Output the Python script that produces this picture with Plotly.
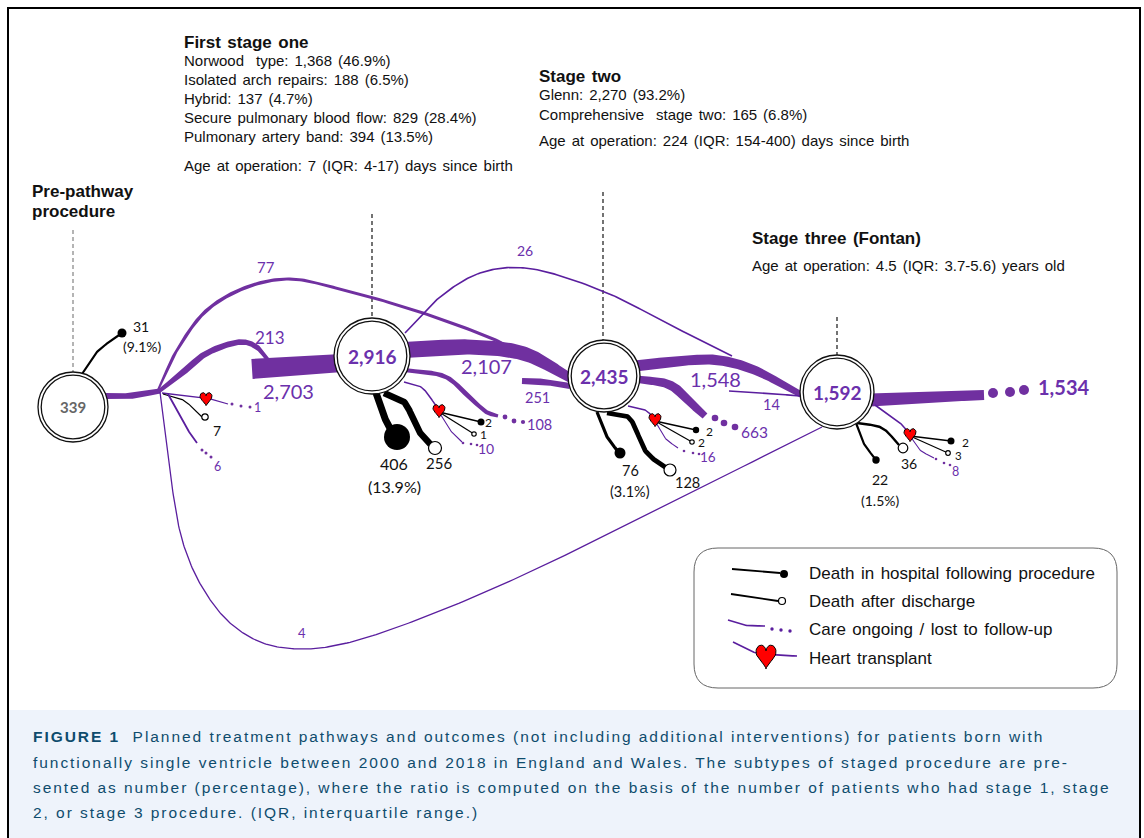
import numpy as np
import plotly.graph_objects as go

PURPLE = "#7030A0"
THIN = "#5A1E9E"
LABEL = "#6B30AC"
BLACK = "#000000"

# ---------- data ----------
node_values = [339, 2916, 2435, 1592]
node_x = [73, 372, 604, 837]
node_y = [407, 356, 376, 392]
node_r = [35, 38, 36, 37]

flow_values = {"a": 2703, "b": 2107, "c": 1548, "d": 1534, "e": 213, "f": 77, "g": 26, "h": 251, "i": 14, "j": 4}

# (points as x, y, width)
bands = [
    [(105, 396, 6), (130, 396, 6), (160, 391, 5)],
    [(158, 392, 4), (180, 375, 6), (207, 353, 6), (243, 342, 5.5), (258, 348, 5), (268, 360, 4)],
    [(158, 390, 2), (177, 350, 3), (207, 310, 3.5), (247, 287, 3.5), (290, 279, 3), (340, 289, 3), (423, 313, 3), (500, 342, 3), (530, 358, 3)],
    [(252, 369, 20), (300, 366, 19), (342, 363, 18)],
    [(404, 350, 16), (470, 347, 15), (525, 354, 14), (572, 379, 9)],
    [(404, 370, 4), (446, 377, 4.5), (470, 398, 4.5), (488, 413, 4), (498, 416, 3)],
    [(522, 381, 6), (545, 382, 6), (570, 386, 6)],
    [(635, 366, 11), (680, 361, 10), (717, 360, 10), (752, 369, 9), (802, 395, 6)],
    [(635, 379, 7), (670, 385, 9), (690, 402, 9), (705, 416, 7)],
    [(870, 400, 13), (930, 397, 11), (984, 395, 10)],
]
thin_lines = [
    # x-y paths, width, colour
    ([(82, 374), (97, 352), (122, 333)], 2.2, BLACK),
    ([(405, 333), (440, 297), (480, 273), (525, 268), (605, 292), (670, 325), (732, 356)], 1.6, THIN),
    ([(729, 391), (765, 393), (800, 396)], 1.6, THIN),
    ([(160, 392), (171, 480), (183, 543), (202, 587), (230, 623), (263, 643), (302, 649), (347, 643), (430, 615),
      (530, 572), (622, 527), (822, 427)], 1.3, THIN),
    # stage 0 exits
    ([(162, 393), (206, 398), (228, 404)], 1.3, THIN),
    ([(163, 394), (183, 400), (202, 417)], 1.2, BLACK),
    ([(168, 394), (186, 427), (197, 443)], 1.8, THIN),
    # stage 1 exits
    ([(375, 390), (381, 410), (392, 432)], 7, BLACK),
    ([(384, 393), (404, 402), (418, 430), (432, 446)], 6.5, BLACK),
    ([(404, 382), (421, 387), (439, 410)], 1.5, THIN),
    ([(439, 412), (481, 422)], 1.4, BLACK),
    ([(439, 412), (474, 434)], 1.2, BLACK),
    ([(439, 412), (450, 430), (462, 442)], 1.1, THIN),
    # stage 2 exits
    ([(597, 412), (606, 435), (619, 453)], 3.2, BLACK),
    ([(607, 413), (628, 417), (647, 453), (668, 469)], 4.8, BLACK),
    ([(628, 406), (645, 410), (655, 419)], 1.4, THIN),
    ([(655, 421), (696, 430)], 1.4, BLACK),
    ([(655, 421), (692, 442)], 1.2, BLACK),
    ([(655, 421), (665, 438), (678, 448)], 1.1, THIN),
    # stage 3 exits
    ([(856, 423), (863, 442), (876, 460)], 2.2, BLACK),
    ([(857, 423), (882, 428), (899, 445)], 2.4, BLACK),
    ([(875, 405), (899, 422), (910, 434)], 1.6, THIN),
    ([(910, 436), (951, 441)], 1.4, BLACK),
    ([(910, 436), (948, 453)], 1.2, BLACK),
    ([(910, 436), (920, 450), (934, 458)], 1.1, THIN),
]

filled_x = [122, 397, 481, 620, 696, 876, 951]
filled_y = [333, 437, 422, 453, 430, 460, 441]
filled_r = [4.5, 13, 3.5, 5.5, 3.2, 3.7, 3.5]

open_x = [205, 435, 474, 670, 692, 903, 948]
open_y = [417, 448, 434, 470, 442, 448, 453]
open_r = [3.2, 6.5, 2.2, 6, 2.2, 4.8, 2.3]

dot_x = [232, 241, 250, 202, 206, 211, 505, 514, 523, 463, 471, 477, 715, 724, 735, 684, 693, 699,
         936, 944, 950, 993, 1010, 1024]
dot_y = [404, 406, 407, 450, 453, 457, 417, 421, 422, 443, 444, 445, 418, 423, 427, 451, 453, 454,
         459, 463, 465, 393, 392, 390]
dot_r = [1.5, 1.5, 1.5, 1.5, 1.5, 1.5, 2.4, 2.4, 2.1, 1.3, 1.3, 1.3, 3.3, 3.3, 3.3, 1.3, 1.3, 1.3,
         1.3, 1.3, 1.3, 5, 5, 5]

heart_x = [206, 439, 655, 910]
heart_y = [398, 410, 419, 434]

stage_guides = [(73, 230, 372, "#777777"), (372, 214, 318, BLACK), (603, 192, 340, BLACK), (837, 317, 356, BLACK)]

purple_labels = [
    (str(flow_values["f"]), 266, 267, 15), (str(flow_values["e"]), 270, 337, 17),
    (f'{flow_values["a"]:,}', 288, 391, 20), (f'{flow_values["b"]:,}', 486, 366, 20),
    (str(flow_values["g"]), 525, 250, 14), (str(flow_values["h"]), 537, 397, 14.5),
    (f'{flow_values["c"]:,}', 715, 379, 20), (str(flow_values["i"]), 771, 404, 14.5),
    (str(flow_values["j"]), 302, 633, 13), ("1", 257, 407, 12.5), ("6", 217, 466, 12.5),
    ("108", 539, 424, 14.5), ("10", 486, 448, 14), ("663", 754, 432, 15.5), ("16", 708, 457, 13.5),
    ("8", 955, 471, 12.5),
]
black_labels = [
    ("31", 141, 326, 14), ("(9.1%)", 142, 346, 14), ("7", 217, 430, 14),
    ("406", 394, 463, 16), ("(13.9%)", 394, 486, 16), ("256", 439, 463, 15),
    ("2", 488, 422, 12), ("1", 483, 434, 12), ("76", 630, 470, 14.5), ("(3.1%)", 630, 491, 14.5),
    ("128", 687, 482, 14.5), ("2", 709, 431, 12), ("2", 701, 442, 12),
    ("22", 880, 479, 14), ("(1.5%)", 880, 500, 14), ("36", 909, 463, 14), ("2", 965, 442, 12), ("3", 958, 455, 11.5),
]
text_blocks = [
    ("<b>First stage one</b>", 184, 42, 17), ("Norwood  type: 1,368 (46.9%)", 184, 60, 15),
    ("Isolated arch repairs: 188 (6.5%)", 184, 79, 15), ("Hybrid: 137 (4.7%)", 184, 98, 15),
    ("Secure pulmonary blood flow: 829 (28.4%)", 184, 117, 15), ("Pulmonary artery band: 394 (13.5%)", 184, 136, 15),
    ("Age at operation: 7 (IQR: 4-17) days since birth", 184, 165, 15),
    ("<b>Stage two</b>", 539, 76, 17), ("Glenn: 2,270 (93.2%)", 539, 94, 15),
    ("Comprehensive  stage two: 165 (6.8%)", 539, 114, 15),
    ("Age at operation: 224 (IQR: 154-400) days since birth", 539, 140, 15),
    ("<b>Stage three (Fontan)</b>", 752, 238, 17), ("Age at operation: 4.5 (IQR: 3.7-5.6) years old", 752, 265, 15),
    ("<b>Pre-pathway</b>", 32, 191, 17), ("<b>procedure</b>", 32, 211, 17),
]
legend_labels = ["Death in hospital following procedure", "Death after discharge",
                 "Care ongoing / lost to follow-up", "Heart transplant"]
legend_text_y = [573, 601, 629, 658]
caption_lines = [
    "<b>FIGURE 1</b>  Planned treatment pathways and outcomes (not including additional interventions) for patients born with",
    "functionally single ventricle between 2000 and 2018 in England and Wales. The subtypes of staged procedure are pre-",
    "sented as number (percentage), where the ratio is computed on the basis of the number of patients who had stage 1, stage",
    "2, or stage 3 procedure. (IQR, interquartile range.)",
]
caption_y = [736, 762, 787, 812]


# ---------- helpers ----------
def smooth(pts, n=24):
    """Centripetal Catmull-Rom curve through the path's anchor points."""
    p = np.asarray(pts, dtype=float)
    if len(p) < 3:
        return p
    q = np.vstack([2 * p[0] - p[1], p, 2 * p[-1] - p[-2]])
    out = []
    for i in range(1, len(q) - 2):
        a, b, c, d = q[i - 1], q[i], q[i + 1], q[i + 2]
        t0 = 0.0
        t1 = t0 + np.hypot(*(b - a)[:2]) ** 0.5
        t2 = t1 + np.hypot(*(c - b)[:2]) ** 0.5
        t3 = t2 + np.hypot(*(d - c)[:2]) ** 0.5
        for t in np.linspace(t1, t2, n, endpoint=False):
            a1 = (t1 - t) / (t1 - t0) * a + (t - t0) / (t1 - t0) * b
            a2 = (t2 - t) / (t2 - t1) * b + (t - t1) / (t2 - t1) * c
            a3 = (t3 - t) / (t3 - t2) * c + (t - t2) / (t3 - t2) * d
            b1 = (t2 - t) / (t2 - t0) * a1 + (t - t0) / (t2 - t0) * a2
            b2 = (t3 - t) / (t3 - t1) * a2 + (t - t1) / (t3 - t1) * a3
            out.append((t2 - t) / (t2 - t1) * b1 + (t - t1) / (t2 - t1) * b2)
    out.append(p[-1])
    return np.array(out)


def add_band(fig, pts):
    s = smooth(pts)
    d = np.gradient(s[:, :2], axis=0)
    nrm = np.c_[-d[:, 1], d[:, 0]] / np.maximum(np.hypot(d[:, 0], d[:, 1]), 1e-6)[:, None]
    top = s[:, :2] + nrm * s[:, 2:3] / 2
    bot = s[:, :2] - nrm * s[:, 2:3] / 2
    poly = np.vstack([top, bot[::-1], top[:1]])
    fig.add_trace(go.Scatter(x=poly[:, 0], y=poly[:, 1], mode="lines", fill="toself", fillcolor=PURPLE,
                             line=dict(width=0, color=PURPLE), hoverinfo="skip", showlegend=False))


def add_line(fig, pts, width, color):
    s = smooth(pts)
    fig.add_trace(go.Scatter(x=s[:, 0], y=s[:, 1], mode="lines", line=dict(width=width, color=color),
                             hoverinfo="skip", showlegend=False))


def add_heart(fig, cx, cy, w, h):
    t = np.linspace(0, 2 * np.pi, 60)
    hx = 16 * np.sin(t) ** 3 / 32 * w
    hy = -(13 * np.cos(t) - 5 * np.cos(2 * t) - 2 * np.cos(3 * t) - np.cos(4 * t)) / 29 * h
    fig.add_trace(go.Scatter(x=cx + hx, y=cy + hy, mode="lines", fill="toself", fillcolor="#FF0000",
                             line=dict(width=1, color=BLACK), hoverinfo="skip", showlegend=False))


def add_circles(fig, xs, ys, rs, fill, line_color, line_w):
    fig.add_trace(go.Scatter(x=xs, y=ys, mode="markers", hoverinfo="skip", showlegend=False,
                             marker=dict(size=[2 * r for r in rs], color=fill, opacity=1,
                                         line=dict(width=line_w, color=line_color))))


fig = go.Figure()

for g in stage_guides:
    fig.add_trace(go.Scatter(x=[g[0], g[0]], y=[g[1], g[2]], mode="lines", hoverinfo="skip", showlegend=False,
                             line=dict(width=1.1, color=g[3], dash="4px,3px")))
for b in bands:
    add_band(fig, b)
for pts, w, c in thin_lines:
    add_line(fig, pts, w, c)

add_circles(fig, filled_x, filled_y, filled_r, BLACK, BLACK, 0)
add_circles(fig, open_x, open_y, open_r, "#FFFFFF", BLACK, 1.2)
add_circles(fig, dot_x, dot_y, dot_r, PURPLE, PURPLE, 0)
for hx_, hy_ in zip(heart_x, heart_y):
    add_heart(fig, hx_, hy_, 12, 13)

add_circles(fig, node_x, node_y, node_r, "#FFFFFF", "#111111", 1.3)
add_circles(fig, node_x, node_y, [r - 3.2 for r in node_r], "#FFFFFF", "#111111", 1.3)

# legend glyphs
add_line(fig, [(732, 569), (780, 573)], 1.8, BLACK)
add_line(fig, [(731, 594), (778, 601)], 1.8, BLACK)
add_line(fig, [(728, 620), (744, 625), (765, 626)], 1.6, THIN)
add_line(fig, [(733, 642), (753, 652), (775, 655), (797, 656)], 1.6, THIN)
add_circles(fig, [784], [574], [4], BLACK, BLACK, 0)
add_circles(fig, [782], [601], [3.5], "#FFFFFF", BLACK, 1.2)
add_circles(fig, [772, 781, 790], [629, 630, 631], [1.7, 1.7, 1.7], THIN, THIN, 0)
add_heart(fig, 766, 655, 20, 24)

ann = []
for line, y in zip(caption_lines, caption_y):
    ann.append(dict(text=line, x=31, y=y, xanchor="left", yanchor="middle", align="left", showarrow=False,
                    font=dict(family="Liberation Sans", size=15.5, color="#0E4C6D")))
for t, x, y, s in text_blocks:
    ann.append(dict(text=t, x=x - 2, y=y, xanchor="left", yanchor="middle", align="left", showarrow=False,
                    font=dict(family="Liberation Sans", size=s, color="#111111")))
for t, y in zip(legend_labels, legend_text_y):
    ann.append(dict(text=t, x=807, y=y, xanchor="left", yanchor="middle", align="left", showarrow=False,
                    font=dict(family="Liberation Sans", size=17, color="#111111")))
for t, x, y, s in purple_labels:
    ann.append(dict(text=t, x=x, y=y, showarrow=False, font=dict(family="Lato", size=s, color=LABEL)))
for t, x, y, s in black_labels:
    ann.append(dict(text=t, x=x, y=y, showarrow=False, font=dict(family="Lato", size=s, color="#111111")))
for i, (v, x, y) in enumerate(zip(node_values, node_x, node_y)):
    ann.append(dict(text=f"<b>{v:,}</b>", x=x, y=y, showarrow=False,
                    font=dict(family="Lato", size=15 if i == 0 else 19, color="#666666" if i == 0 else LABEL)))
ann.append(dict(text=f'<b>{flow_values["d"]:,}</b>', x=1063, y=387, showarrow=False,
                font=dict(family="Lato", size=20, color=LABEL)))

box = "M 718 548 L 1093 548 Q 1117 548 1117 572 L 1117 664 Q 1117 688 1093 688 L 718 688 Q 694 688 694 664 L 694 572 Q 694 548 718 548 Z"
shapes = [
    dict(type="rect", x0=9, x1=1139, y0=710, y1=838, fillcolor="#EEF3FB", line=dict(width=0), layer="below"),
    dict(type="line", x0=8, x1=1140, y0=8, y1=8, line=dict(width=2, color=BLACK), layer="below"),
    dict(type="line", x0=8, x1=8, y0=7, y1=838, line=dict(width=2, color=BLACK), layer="below"),
    dict(type="line", x0=1140, x1=1140, y0=7, y1=838, line=dict(width=2, color=BLACK), layer="below"),
    dict(type="path", path=box, fillcolor="#FFFFFF", line=dict(width=1, color="#666666"), layer="below"),
]

fig.update_layout(
    width=1144, height=838, margin=dict(l=0, r=0, t=0, b=0), paper_bgcolor="#FFFFFF", plot_bgcolor="#FFFFFF",
    xaxis=dict(range=[0, 1144], visible=False, fixedrange=True),
    yaxis=dict(range=[838, 0], visible=False, fixedrange=True),
    shapes=shapes, annotations=ann, showlegend=False,
)

n_cap = len(caption_lines)
n_blk = len(text_blocks)
n_leg = len(legend_labels)
cap_sel = ",".join(f'.annotation[data-index="{i}"] text' for i in range(n_cap))
word_sel = ",".join(f'.annotation[data-index="{i}"] text' for i in range(n_cap, n_cap + n_blk + n_leg))
post = """
document.body.style.margin='0';document.body.style.overflow='hidden';
var st=document.createElement('style');
st.textContent='%s{letter-spacing:1.95px;-webkit-text-stroke:0.3px #0E4C6D}%s{word-spacing:1.8px}';
document.head.appendChild(st);
""" % (cap_sel, word_sel)
fig.write_html("out.html", post_script=post, config={"displayModeBar": False})
